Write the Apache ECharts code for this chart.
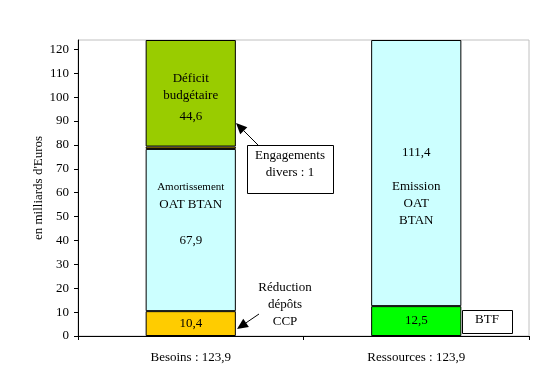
<!DOCTYPE html>
<html>
<head>
<meta charset="utf-8">
<script src="https://cdn.jsdelivr.net/npm/echarts@6/dist/echarts.min.js"></script>
<style>html,body{margin:0;padding:0;background:#fff}#c{width:540px;height:386px}</style>
</head>
<body>
<div id="c"></div>
<script>
const categories = ['Besoins : 123,9', 'Ressources : 123,9'];
const reduction = [10.4, '-'];
const amortissement = [67.9, '-'];
const engagements = [1, '-'];
const deficit = [44.6, '-'];
const btf = ['-', 12.5];
const emission = ['-', 111.4];
const yTicks = [0, 10, 20, 30, 40, 50, 60, 70, 80, 90, 100, 110, 120];

const FONT = '"Liberation Serif", "Times New Roman", serif';
const chart = echarts.init(document.getElementById('c'), null, {renderer: 'canvas'});

function seg(name, data, color, label) {
  return {
    name: name, type: 'bar', stack: 'total', data: data, barWidth: '40%',
    itemStyle: {color: color, borderColor: '#000', borderWidth: 1},
    label: label ? Object.assign({show: true, position: 'inside', color: '#000',
      fontFamily: FONT, fontSize: 13}, label) : {show: false},
    emphasis: {disabled: true},
    animation: false
  };
}

chart.setOption({
  animation: false,
  grid: {left: 78, top: 40, right: 11, bottom: 50, show: true, borderColor: '#c0c0c0', borderWidth: 1, backgroundColor: '#fff'},
  xAxis: {
    type: 'category', data: categories,
    axisLine: {lineStyle: {color: '#000', width: 1}},
    axisTick: {show: true, length: 4, lineStyle: {color: '#000'}},
    axisLabel: {color: '#000', fontFamily: FONT, fontSize: 13, margin: 15}
  },
  yAxis: {
    type: 'value', min: 0, max: 123.9, interval: 10,
    name: "en milliards d'Euros", nameLocation: 'middle', nameGap: 33, nameMoveOverlap: false,
    nameTextStyle: {color: '#000', fontFamily: FONT, fontSize: 13},
    axisLine: {show: true, lineStyle: {color: '#000', width: 1}},
    axisTick: {show: true, length: 4, lineStyle: {color: '#000'}, customValues: yTicks},
    axisLabel: {color: '#000', fontFamily: FONT, fontSize: 13, margin: 9, customValues: yTicks},
    splitLine: {show: false}
  },
  series: [
    seg('Réduction dépôts CCP', reduction, '#FFCC00', {formatter: '10,4'}),
    seg('Amortissement OAT BTAN', amortissement, '#CCFFFF', {
      formatter: '{s|Amortissement}\n{m|OAT BTAN}\n{m|}\n{m|67,9}',
      offset: [0, -16],
      rich: {s: {fontFamily: FONT, fontSize: 11, lineHeight: 18, color: '#000'},
             m: {fontFamily: FONT, fontSize: 13, lineHeight: 18, color: '#000'}}
    }),
    seg('Engagements divers', engagements, '#FFCC00', null),
    seg('Déficit budgétaire', deficit, '#99CC00', {
      formatter: '{m|Déficit}\n{m|budgétaire}\n{b|44,6}',
      offset: [0, 6],
      rich: {m: {fontFamily: FONT, fontSize: 13, lineHeight: 17, color: '#000'},
             b: {fontFamily: FONT, fontSize: 13, lineHeight: 25, color: '#000'}}
    }),
    seg('BTF', btf, '#00FF00', {formatter: '12,5'}),
    seg('Emission OAT BTAN', emission, '#CCFFFF', {
      formatter: '{m|111,4}\n{m|}\n{m|Emission}\n{m|OAT}\n{m|BTAN}',
      offset: [0, 14],
      rich: {m: {fontFamily: FONT, fontSize: 13, lineHeight: 17, color: '#000'}}
    })
  ]
});

function arrow(x1, y1, x2, y2) {
  const a = Math.atan2(y2 - y1, x2 - x1);
  const L = 11, W = 5;
  const bx = x2 - L * Math.cos(a), by = y2 - L * Math.sin(a);
  const px = -Math.sin(a) * W, py = Math.cos(a) * W;
  return [
    {type: 'line', shape: {x1: x1, y1: y1, x2: bx, y2: by}, style: {stroke: '#000', lineWidth: 1}, z: 100},
    {type: 'polygon', shape: {points: [[x2, y2], [bx + px, by + py], [bx - px, by - py]]}, style: {fill: '#000'}, z: 100}
  ];
}

const textStyle = {fill: '#000', font: '13px ' + FONT, align: 'center', verticalAlign: 'middle'};
const graphics = [].concat(
  arrow(258, 145, 236, 123),
  arrow(259, 314, 237, 329),
  [
    {type: 'rect', shape: {x: 247.5, y: 145.5, width: 86, height: 48}, style: {fill: '#fff', stroke: '#000', lineWidth: 1}, z: 101},
    {type: 'text', x: 290, y: 156, style: Object.assign({text: 'Engagements'}, textStyle), z: 102},
    {type: 'text', x: 290, y: 173, style: Object.assign({text: 'divers : 1'}, textStyle), z: 102},
    {type: 'text', x: 285, y: 288, style: Object.assign({text: 'Réduction'}, textStyle), z: 102},
    {type: 'text', x: 285, y: 305, style: Object.assign({text: 'dépôts'}, textStyle), z: 102},
    {type: 'text', x: 285, y: 322, style: Object.assign({text: 'CCP'}, textStyle), z: 102},
    {type: 'rect', shape: {x: 462.5, y: 310.5, width: 50, height: 23}, style: {fill: '#fff', stroke: '#000', lineWidth: 1}, z: 101},
    {type: 'text', x: 487, y: 320, style: Object.assign({text: 'BTF'}, textStyle), z: 102}
  ]
);
chart.setOption({graphic: graphics});
</script>
</body>
</html>
